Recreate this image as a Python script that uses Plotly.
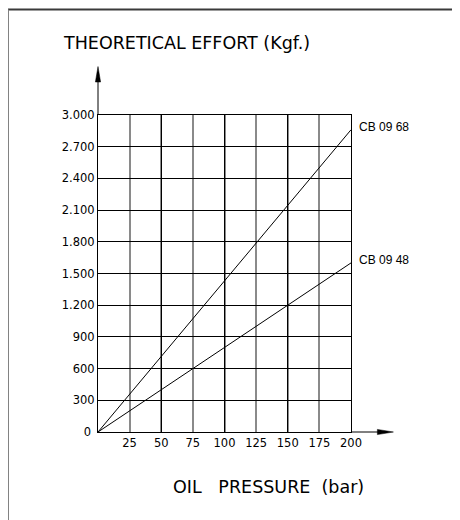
import plotly.graph_objects as go

# ---- data ----
pressure_bar = [0, 200]
series_names = ["CB 09 68", "CB 09 48"]
effort_cb0968 = [0, 2860]
effort_cb0948 = [0, 1600]

x_ticks = [25, 50, 75, 100, 125, 150, 175, 200]
y_ticks = [0, 300, 600, 900, 1200, 1500, 1800, 2100, 2400, 2700, 3000]
y_tick_labels = ["0\u00a0", "300", "600", "900", "1.200", "1.500", "1.800",
                 "2.100", "2.400", "2.700", "3.000"]

title_text = "THEORETICAL EFFORT (Kgf.)"
x_title_text = "OIL\u00a0\u00a0\u00a0PRESSURE\u00a0\u00a0(bar)"

# page has an 8px body margin; work in screen (reference) pixels
OFF = 8
W, H = 460 - OFF, 520 - OFF
P_LEFT, P_RIGHT, P_TOP, P_BOTTOM = 98.3, 350.7, 115.0, 432.3
ML = P_LEFT - OFF
MT = P_TOP - OFF
MR = W - (P_RIGHT - OFF)
MB = H - (P_BOTTOM - OFF)
PW = P_RIGHT - P_LEFT
PH = P_BOTTOM - P_TOP


def px(xs):
    return (xs - P_LEFT) / PW


def py(ys):
    return (P_BOTTOM - ys) / PH


tick_font = dict(family="DejaVu Sans", size=11.5, color="black")

fig = go.Figure()
for name, ys in zip(series_names, [effort_cb0968, effort_cb0948]):
    fig.add_trace(go.Scatter(x=pressure_bar, y=ys, mode="lines", name=name,
                             line=dict(color="black", width=1),
                             hoverinfo="skip", showlegend=False))
    fig.add_annotation(x=pressure_bar[-1], y=ys[-1], xref="x", yref="y",
                       text=name, showarrow=False, xanchor="left",
                       yanchor="middle", xshift=6, yshift=2.5,
                       font=dict(family="Liberation Sans", size=12, color="black"))

# overlay axis for the darker 50-step vertical grid lines
fig.add_trace(go.Scatter(x=[None], y=[None], xaxis="x2", yaxis="y",
                         hoverinfo="skip", showlegend=False))

fig.update_layout(
    width=W, height=H,
    margin=dict(l=ML, r=MR, t=MT, b=MB, pad=0),
    paper_bgcolor="white", plot_bgcolor="white",
    showlegend=False,
    xaxis=dict(range=[0, 200], tickvals=x_ticks, ticktext=[str(v) for v in x_ticks],
               showgrid=True, gridcolor="#8a8a8a", gridwidth=1.6,
               zeroline=False, showline=True, mirror=True, linecolor="black",
               linewidth=1, ticks="", tickfont=tick_font, fixedrange=True),
    xaxis2=dict(range=[0, 200], overlaying="x", anchor="y", side="bottom",
                tickvals=[50, 100, 150], showticklabels=False,
                showgrid=True, gridcolor="black", gridwidth=1,
                zeroline=False, showline=False, ticks="", fixedrange=True),
    yaxis=dict(range=[0, 3000], tickvals=y_ticks, ticktext=y_tick_labels,
               showgrid=True, gridcolor="black", gridwidth=1,
               zeroline=False, showline=True, mirror=True, linecolor="black",
               linewidth=1, ticks="", tickfont=tick_font, fixedrange=True),
)

shapes = []
# axis extensions with arrow heads
shapes.append(dict(type="line", xref="paper", yref="paper",
                   x0=1, y0=0, x1=px(380), y1=0, line=dict(color="black", width=1)))
shapes.append(dict(type="path", xref="paper", yref="paper",
                   path=f"M {px(377)},{py(432.3-2.6)} L {px(393)},{py(432.3)} L {px(377)},{py(432.3+2.6)} Z",
                   fillcolor="black", line=dict(color="black", width=0.5)))
shapes.append(dict(type="line", xref="paper", yref="paper",
                   x0=0, y0=1, x1=0, y1=py(78), line=dict(color="black", width=1)))
shapes.append(dict(type="path", xref="paper", yref="paper",
                   path=f"M {px(98.3-2.6)},{py(82)} L {px(98.3)},{py(66.5)} L {px(98.3+2.6)},{py(82)} Z",
                   fillcolor="black", line=dict(color="black", width=0.5)))
# outer frame (top and left edges)
shapes.append(dict(type="line", xref="paper", yref="paper",
                   x0=px(8.5), y0=py(9.5), x1=px(465), y1=py(9.5),
                   line=dict(color="#3a3a3a", width=2)))
shapes.append(dict(type="line", xref="paper", yref="paper",
                   x0=px(8.5), y0=py(9.5), x1=px(8.5), y1=py(530),
                   line=dict(color="#808080", width=2)))
fig.update_layout(shapes=shapes)

fig.add_annotation(x=px(61.5), y=py(42.5), xref="paper", yref="paper",
                   text=title_text, showarrow=False, xanchor="left", yanchor="middle",
                   font=dict(family="DejaVu Sans", size=17.5, color="black"))
fig.add_annotation(x=px(268.5), y=py(487), xref="paper", yref="paper",
                   text=x_title_text, showarrow=False, xanchor="center", yanchor="middle",
                   font=dict(family="DejaVu Sans", size=17.5, color="black"))

fig.write_html("out.html")
